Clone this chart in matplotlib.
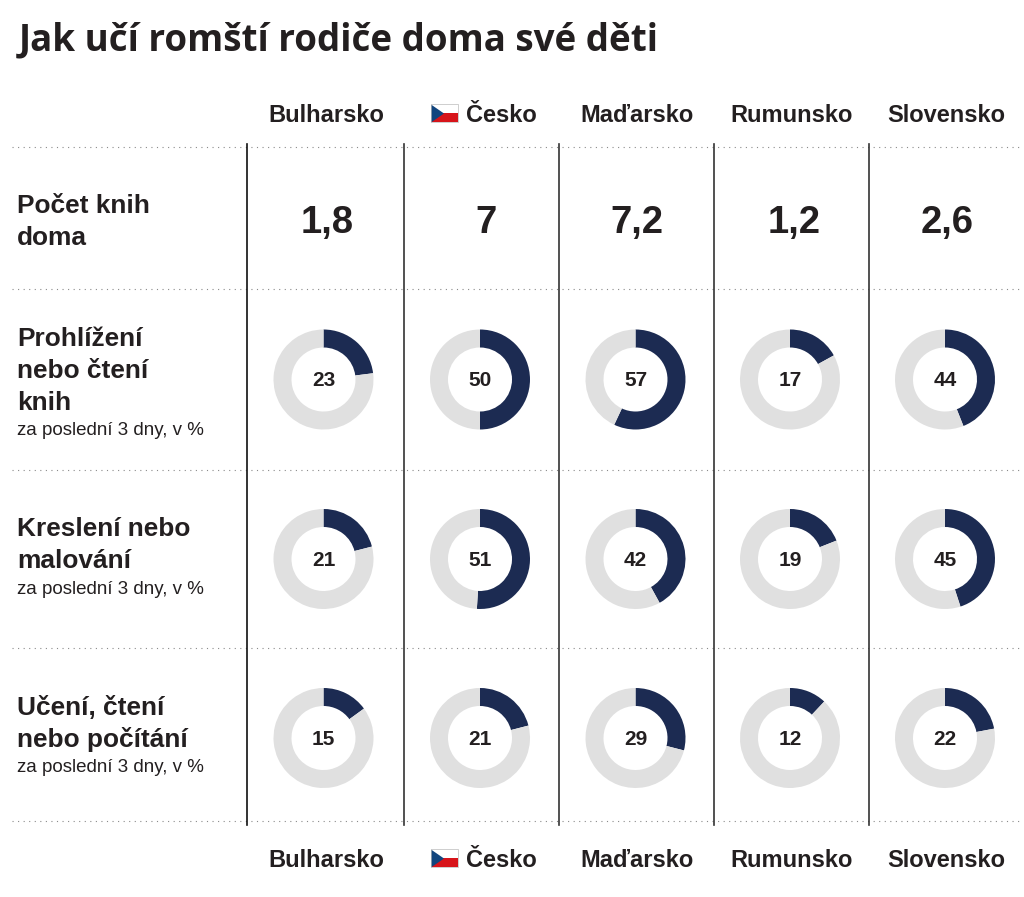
import matplotlib
matplotlib.use("Agg")
import matplotlib.pyplot as plt
from matplotlib.patches import Polygon, Rectangle

W, H = 1024, 897
TITLE = "Jak učí romští rodiče doma své děti"
countries = ["Bulharsko", "Česko", "Maďarsko", "Rumunsko", "Slovensko"]
books = ["1,8", "7", "7,2", "1,2", "2,6"]
reading = [23, 50, 57, 17, 44]
drawing = [21, 51, 42, 19, 45]
learning = [15, 21, 29, 12, 22]
row_labels = ["Počet knih\ndoma", "Prohlížení\nnebo čtení\nknih", "Kreslení nebo\nmalování", "Učení, čtení\nnebo počítání"]
note = "za poslední 3 dny, v %"

NAVY, GREY, INK = "#1c2b52", "#e0e0e0", "#231f20"
SANS = "Liberation Sans"

col_x = [323.5, 480, 635.5, 790, 945]
head_x = [326, 501, 636.5, 792, 946.5]
book_x = [327, 486, 637, 794, 947]
row_y = [379.5, 559, 738]
vlines = [247, 404, 559, 714, 869]
hlines = [147, 289, 470, 648, 821]
R = 50

fig = plt.figure(figsize=(W / 100, H / 100), dpi=100, facecolor="white")
bg = fig.add_axes([0, 0, 1, 1])
bg.set_xlim(0, W)
bg.set_ylim(H, 0)
bg.axis("off")

bg.text(19, 50, TITLE, family="Open Sans", weight="bold", fontsize=26.5, color=INK, va="baseline", ha="left")

for y in hlines:
    bg.plot([12, 1020], [y, y], color="#8a8a8a", lw=0.8, dashes=(1, 4), zorder=1)
for i, x in enumerate(vlines):
    bg.plot([x, x], [144, 825], color="#111111" if i == 0 else "#333333", lw=1.2, zorder=2)

for y in (114, 859):
    for name, x in zip(countries, head_x):
        bg.text(x, y + 8, name, family=SANS, weight="bold", fontsize=17,
                color=INK, ha="center", va="baseline")
    fx, fw, fh = 431, 27, 18
    fy = y - 9.5
    bg.add_patch(Rectangle((fx, fy), fw, fh / 2, fc="white", ec="none", zorder=3))
    bg.add_patch(Rectangle((fx, fy + fh / 2), fw, fh / 2, fc="#d7141a", ec="none", zorder=3))
    bg.add_patch(Polygon([(fx, fy), (fx + 13, fy + fh / 2), (fx, fy + fh)], fc="#11457e", ec="none", zorder=4))
    bg.add_patch(Rectangle((fx, fy), fw, fh, fc="none", ec="#bbbbbb", lw=0.5, zorder=5))

for x, v in zip(book_x, books):
    bg.text(x, 233, v, family=SANS, weight="bold", fontsize=27.5, color=INK, ha="center", va="baseline")

LS = 32
label_tops = [213, 346, 536, 715]
for lab, top in zip(row_labels, label_tops):
    for k, line in enumerate(lab.split("\n")):
        bg.text(17, top + k * LS, line, family=SANS, weight="bold", fontsize=18.9, color=INK, ha="left", va="baseline")
for y in (435, 594, 772):
    bg.text(17, y, note, family=SANS, fontsize=13.5, color=INK, ha="left", va="baseline")

for cy, series in zip(row_y, [reading, drawing, learning]):
    for cx, v in zip(col_x, series):
        ax = fig.add_axes([(cx - R - 1) / W, 1 - (cy + R + 1) / H, (2 * R + 2) / W, (2 * R + 2) / H])
        ax.pie([v, 100 - v], colors=[NAVY, GREY], startangle=90, counterclock=False, radius=R,
               wedgeprops=dict(width=18, linewidth=0))
        ax.set_xlim(-R - 1, R + 1)
        ax.set_ylim(-R - 1, R + 1)
        ax.set_aspect("equal")
        ax.axis("off")
        ax.text(0, -6.5, str(v), family=SANS, weight="bold", fontsize=15, color=INK, ha="center", va="baseline")

fig.savefig("out.png", dpi=100, facecolor="white")
